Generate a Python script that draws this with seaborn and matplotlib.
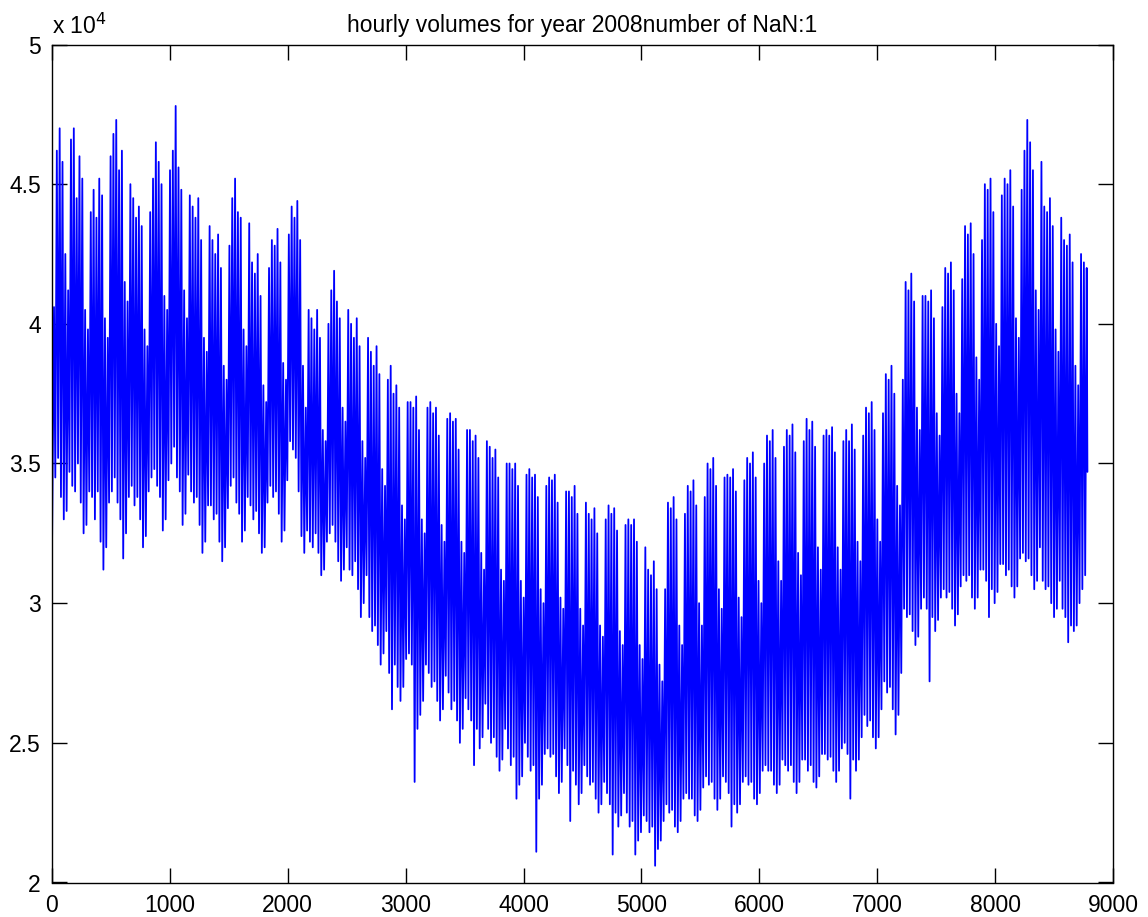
import numpy as np
import pandas as pd
import matplotlib
matplotlib.use("Agg")
import matplotlib.pyplot as plt
from matplotlib.ticker import FuncFormatter
import seaborn as sns

# Daily peak (high) and trough (low) volumes, in units of 10^4.
# One row per week (Tue..Mon), 2008 starts on a Tuesday.
daily_peak = [
    4.06, 4.62, 4.70, 4.58, 4.25, 4.12, 4.66,
    4.70, 4.45, 4.60, 4.52, 4.05, 3.98, 4.40,
    4.48, 4.38, 4.52, 4.46, 4.02, 3.95, 4.60,
    4.68, 4.73, 4.55, 4.62, 4.15, 4.08, 4.50,
    4.45, 4.38, 4.42, 4.35, 3.98, 3.92, 4.40,
    4.52, 4.65, 4.58, 4.50, 4.10, 4.05, 4.55,
    4.62, 4.78, 4.56, 4.48, 4.12, 4.02, 4.46,
    4.42, 4.38, 4.45, 4.30, 3.95, 3.90, 4.35,
    4.30, 4.25, 4.32, 4.20, 3.85, 3.80, 4.28,
    4.45, 4.52, 4.40, 4.38, 3.98, 3.92, 4.36,
    4.22, 4.18, 4.25, 4.10, 3.78, 3.72, 4.20,
    4.30, 4.28, 4.34, 4.22, 3.86, 3.80, 4.32,
    4.42, 4.38, 4.44, 4.30, 3.85, 3.70, 4.05,
    4.02, 3.98, 4.05, 3.95, 3.62, 3.58, 4.00,
    4.12, 4.19, 4.08, 4.02, 3.70, 3.65, 4.05,
    4.00, 3.95, 4.02, 3.92, 3.58, 3.52, 3.95,
    3.90, 3.85, 3.92, 3.82, 3.48, 3.42, 3.80,
    3.85, 3.75, 3.78, 3.70, 3.35, 3.30, 3.72,
    3.72, 3.70, 3.74, 3.62, 3.30, 3.25, 3.70,
    3.72, 3.68, 3.70, 3.60, 3.28, 3.22, 3.66,
    3.68, 3.65, 3.66, 3.55, 3.22, 3.18, 3.62,
    3.62, 3.58, 3.60, 3.52, 3.18, 3.12, 3.58,
    3.56, 3.52, 3.55, 3.45, 3.12, 3.08, 3.50,
    3.50, 3.48, 3.50, 3.42, 3.08, 3.02, 3.46,
    3.48, 3.45, 3.46, 3.38, 3.05, 3.00, 3.42,
    3.45, 3.44, 3.46, 3.36, 3.02, 2.98, 3.40,
    3.40, 3.38, 3.42, 3.32, 2.98, 2.92, 3.36,
    3.32, 3.30, 3.34, 3.25, 2.92, 2.88, 3.30,
    3.35, 3.32, 3.34, 3.26, 2.90, 2.85, 3.28,
    3.30, 3.28, 3.30, 3.22, 2.85, 2.80, 3.20,
    3.12, 3.10, 3.15, 3.05, 2.78, 2.72, 3.05,
    3.36, 3.34, 3.38, 3.30, 2.92, 2.85, 3.32,
    3.42, 3.40, 3.44, 3.35, 3.00, 2.92, 3.38,
    3.50, 3.48, 3.52, 3.42, 3.05, 2.98, 3.45,
    3.46, 3.45, 3.48, 3.40, 3.02, 2.95, 3.44,
    3.52, 3.50, 3.54, 3.45, 3.08, 3.00, 3.50,
    3.60, 3.58, 3.62, 3.52, 3.15, 3.08, 3.56,
    3.62, 3.60, 3.64, 3.54, 3.18, 3.10, 3.58,
    3.66, 3.62, 3.65, 3.56, 3.20, 3.12, 3.60,
    3.62, 3.60, 3.63, 3.54, 3.20, 3.12, 3.58,
    3.62, 3.58, 3.64, 3.55, 3.22, 3.15, 3.60,
    3.70, 3.68, 3.72, 3.62, 3.30, 3.22, 3.68,
    3.82, 3.80, 3.85, 3.75, 3.42, 3.35, 3.80,
    4.15, 4.12, 4.18, 4.08, 3.70, 3.62, 4.10,
    4.10, 4.08, 4.12, 4.02, 3.68, 3.60, 4.06,
    4.20, 4.18, 4.22, 4.12, 3.75, 3.68, 4.16,
    4.35, 4.32, 4.36, 4.25, 3.88, 3.80, 4.30,
    4.50, 4.48, 4.52, 4.40, 4.00, 3.92, 4.46,
    4.52, 4.50, 4.55, 4.42, 4.02, 3.95, 4.48,
    4.62, 4.73, 4.65, 4.55, 4.12, 4.05, 4.58,
    4.42, 4.40, 4.45, 4.35, 3.98, 3.90, 4.38,
    4.30, 4.28, 4.32, 4.22, 3.85, 3.78, 4.25,
    4.22, 4.20,
]
daily_trough = [
    3.19, 3.45, 3.52, 3.38, 3.30, 3.33, 3.47,
    3.42, 3.40, 3.50, 3.36, 3.25, 3.28, 3.40,
    3.38, 3.30, 3.40, 3.22, 3.12, 3.20, 3.36,
    3.40, 3.45, 3.36, 3.30, 3.16, 3.25, 3.38,
    3.42, 3.35, 3.38, 3.30, 3.20, 3.24, 3.40,
    3.45, 3.48, 3.42, 3.38, 3.26, 3.30, 3.44,
    3.50, 3.56, 3.45, 3.40, 3.28, 3.32, 3.46,
    3.40, 3.36, 3.38, 3.28, 3.18, 3.22, 3.35,
    3.35, 3.30, 3.32, 3.22, 3.15, 3.20, 3.34,
    3.42, 3.45, 3.36, 3.32, 3.22, 3.26, 3.38,
    3.35, 3.30, 3.33, 3.25, 3.18, 3.20, 3.36,
    3.42, 3.38, 3.40, 3.32, 3.22, 3.26, 3.44,
    3.58, 3.55, 3.52, 3.40, 3.24, 3.18, 3.26,
    3.22, 3.20, 3.25, 3.18, 3.10, 3.12, 3.22,
    3.25, 3.28, 3.22, 3.15, 3.08, 3.12, 3.20,
    3.12, 3.10, 3.15, 3.05, 2.95, 3.00, 3.10,
    2.95, 2.90, 2.92, 2.85, 2.78, 2.82, 2.90,
    2.75, 2.62, 2.78, 2.70, 2.65, 2.70, 2.80,
    2.82, 2.78, 2.36, 2.55, 2.60, 2.65, 2.78,
    2.75, 2.70, 2.72, 2.65, 2.58, 2.62, 2.74,
    2.68, 2.62, 2.65, 2.58, 2.50, 2.55, 2.66,
    2.62, 2.58, 2.42, 2.55, 2.48, 2.52, 2.64,
    2.55, 2.50, 2.52, 2.45, 2.40, 2.44, 2.55,
    2.48, 2.42, 2.45, 2.30, 2.35, 2.38, 2.50,
    2.45, 2.40, 2.42, 2.11, 2.30, 2.35, 2.46,
    2.48, 2.45, 2.46, 2.38, 2.32, 2.36, 2.48,
    2.42, 2.22, 2.40, 2.35, 2.28, 2.32, 2.42,
    2.38, 2.35, 2.36, 2.30, 2.25, 2.28, 2.36,
    2.32, 2.28, 2.10, 2.25, 2.20, 2.24, 2.32,
    2.25, 2.20, 2.22, 2.10, 2.15, 2.18, 2.24,
    2.22, 2.18, 2.20, 2.06, 2.12, 2.15, 2.22,
    2.28, 2.25, 2.26, 2.20, 2.18, 2.22, 2.30,
    2.32, 2.30, 2.30, 2.24, 2.22, 2.26, 2.34,
    2.38, 2.35, 2.36, 2.30, 2.26, 2.30, 2.38,
    2.36, 2.32, 2.20, 2.28, 2.25, 2.28, 2.36,
    2.38, 2.35, 2.36, 2.30, 2.28, 2.32, 2.40,
    2.42, 2.40, 2.40, 2.35, 2.32, 2.35, 2.44,
    2.42, 2.40, 2.42, 2.36, 2.32, 2.36, 2.44,
    2.44, 2.40, 2.42, 2.36, 2.34, 2.38, 2.46,
    2.46, 2.44, 2.45, 2.40, 2.36, 2.40, 2.48,
    2.50, 2.46, 2.30, 2.44, 2.40, 2.44, 2.52,
    2.60, 2.56, 2.58, 2.52, 2.48, 2.52, 2.62,
    2.72, 2.68, 2.70, 2.62, 2.53, 2.60, 2.75,
    2.98, 2.95, 2.96, 2.90, 2.85, 2.88, 2.98,
    3.02, 2.98, 2.72, 2.95, 2.90, 2.94, 3.02,
    3.05, 3.02, 3.04, 2.98, 2.92, 2.96, 3.06,
    3.10, 3.08, 3.10, 3.02, 2.98, 3.02, 3.12,
    3.12, 3.08, 2.95, 3.05, 3.00, 3.04, 3.14,
    3.14, 3.10, 3.12, 3.06, 3.02, 3.06, 3.16,
    3.18, 3.15, 3.16, 3.10, 3.05, 3.08, 3.20,
    3.08, 3.05, 3.06, 3.00, 2.95, 2.98, 3.08,
    2.98, 2.95, 2.86, 2.92, 2.90, 2.92, 3.00,
    3.05, 3.10,
]
last_hour_value = 3.47

title_text = "hourly volumes for year 2008number of NaN:1"
x_ticks = [0, 1000, 2000, 3000, 4000, 5000, 6000, 7000, 8000, 9000]
y_ticks = [2, 2.5, 3, 3.5, 4, 4.5, 5]

# Build the hourly sequence of trough / peak points
n_days = len(daily_peak)
hours, values = [], []
for d in range(n_days):
    hours.append(24 * d + (0 if d == 0 else 4))
    values.append(daily_trough[d])
    hours.append(24 * d + 17)
    values.append(daily_peak[d])
hours.append(24 * n_days - 1)
values.append(last_hour_value)
df = pd.DataFrame({"hour": hours, "volume": values})

sns.set_theme(style="white")
plt.rcParams['font.family'] = ['Liberation Sans', 'DejaVu Sans']

fig = plt.figure(figsize=(11.48, 9.17), dpi=100)
ax = fig.add_axes([52 / 1148, 1 - 882.5 / 917, (1113 - 52) / 1148, (882.5 - 44.5) / 917])

sns.lineplot(data=df, x="hour", y="volume", ax=ax, color="#0000ff",
             linewidth=1.3, estimator=None, sort=False)

ax.set_xlim(0, 9000)
ax.set_ylim(2, 5)
ax.set_xticks(x_ticks)
ax.set_yticks(y_ticks)
ax.yaxis.set_major_formatter(FuncFormatter(lambda v, p: f"{v:g}"))
ax.xaxis.set_major_formatter(FuncFormatter(lambda v, p: f"{v:g}"))
ax.set_xlabel("")
ax.set_ylabel("")
ax.tick_params(axis="both", which="major", direction="in", length=11, width=1.0,
               top=True, right=True, bottom=True, left=True, labelsize=16.5,
               colors="black", pad=8)
for s in ax.spines.values():
    s.set_visible(True)
    s.set_color("black")
    s.set_linewidth(1.0)
ax.grid(False)

ax.set_title(title_text, fontsize=16.5, color="black", pad=9)
fig.text(52 / 1148, 1 - 34 / 917, r"x 10$^{4}$", fontsize=16.5, ha="left",
         va="baseline", color="black")

fig.savefig("out.png", dpi=100, facecolor="white")
